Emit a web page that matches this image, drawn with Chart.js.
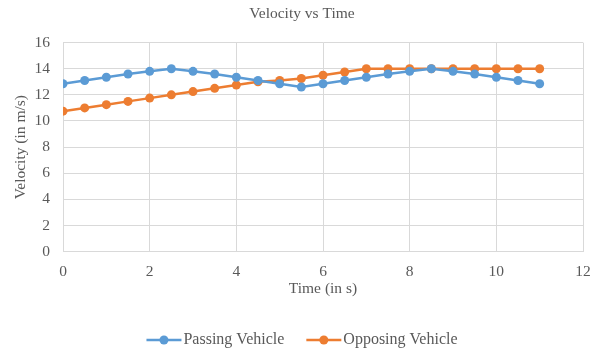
<!DOCTYPE html>
<html>
<head>
<meta charset="utf-8">
<script src="https://cdn.jsdelivr.net/npm/chart.js@4/dist/chart.umd.min.js"></script>
<style>
  html, body { margin: 0; padding: 0; background: #fff; }
  #wrap { width: 598px; height: 354px; }
</style>
</head>
<body>
<div id="wrap"><canvas id="velocity-chart"></canvas></div>
<script>
(function() {
    "use strict";

    const times = [0, 0.5, 1, 1.5, 2, 2.5, 3, 3.5, 4, 4.5, 5, 5.5, 6, 6.5, 7, 7.5, 8, 8.5, 9, 9.5, 10, 10.5, 11];
    const passing = [12.85, 13.1, 13.35, 13.6, 13.8, 14.0, 13.8, 13.6, 13.35, 13.1, 12.85, 12.6, 12.85, 13.1, 13.35, 13.6, 13.8, 14.0, 13.8, 13.6, 13.35, 13.1, 12.85];
    const opposing = [10.75, 11.0, 11.25, 11.5, 11.75, 12.0, 12.25, 12.5, 12.75, 13.0, 13.1, 13.25, 13.5, 13.75, 14.0, 14.0, 14.0, 14.0, 14.0, 14.0, 14.0, 14.0, 14.0];
    const seriesNames = ['Passing Vehicle', 'Opposing Vehicle'];

    const colors = { passing: '#5B9BD5', opposing: '#ED7D31', text: '#595959', grid: '#D9D9D9' };
    const serif = "'Liberation Serif', 'Times New Roman', serif";
    const legendLine = 35;

    function points(values) {
        return times.map((t, i) => ({ x: t, y: values[i] }));
    }

    // Excel style legend marker: line with a dot, sitting close to the text
    const legendMarkers = {
        id: 'legendMarkers',
        afterDraw(chart) {
            const legend = chart.legend;
            if (!legend || !legend.legendHitBoxes) return;
            const ctx = chart.ctx;
            legend.legendHitBoxes.forEach((box, i) => {
                const ds = chart.data.datasets[i];
                const y = box.top + box.height / 2;
                ctx.save();
                ctx.strokeStyle = ds.borderColor;
                ctx.fillStyle = ds.borderColor;
                ctx.lineWidth = 2.5;
                ctx.beginPath();
                ctx.moveTo(box.left, y);
                ctx.lineTo(box.left + legendLine, y);
                ctx.stroke();
                ctx.beginPath();
                ctx.arc(box.left + legendLine / 2, y, 4.5, 0, Math.PI * 2);
                ctx.fill();
                ctx.restore();
            });
        }
    };

    let velocityChart = document.getElementById('velocity-chart');
    if (velocityChart) {
        window.Chart && new Chart(velocityChart, {
            type: 'line',
            data: {
                datasets: [{
                    label: seriesNames[0],
                    data: points(passing),
                    borderColor: colors.passing,
                    backgroundColor: colors.passing,
                    pointBackgroundColor: colors.passing,
                    borderWidth: 2.5,
                    pointRadius: 4.5,
                    pointBorderWidth: 0,
                    lineTension: 0
                }, {
                    label: seriesNames[1],
                    data: points(opposing),
                    borderColor: colors.opposing,
                    backgroundColor: colors.opposing,
                    pointBackgroundColor: colors.opposing,
                    borderWidth: 2.5,
                    pointRadius: 4.5,
                    pointBorderWidth: 0,
                    lineTension: 0
                }]
            },
            options: {
                responsive: true,
                maintainAspectRatio: false,
                animation: false,
                layout: {
                    padding: { left: 6, right: 0, top: 0, bottom: -4 }
                },
                plugins: {
                    title: {
                        display: true,
                        text: 'Velocity vs Time',
                        color: colors.text,
                        font: { family: serif, size: 15.5, weight: 'normal' },
                        padding: { top: 5, bottom: 19 }
                    },
                    legend: {
                        position: 'bottom',
                        labels: {
                            color: colors.text,
                            font: { family: serif, size: 16 },
                            boxWidth: legendLine - 6,
                            boxHeight: 2,
                            padding: 22,
                            generateLabels(chart) {
                                return chart.data.datasets.map((ds, i) => ({
                                    text: ds.label,
                                    fillStyle: 'rgba(0,0,0,0)',
                                    strokeStyle: 'rgba(0,0,0,0)',
                                    lineWidth: 0,
                                    fontColor: colors.text,
                                    datasetIndex: i
                                }));
                            }
                        }
                    },
                    tooltip: { enabled: false }
                },
                scales: {
                    x: {
                        type: 'linear',
                        min: 0,
                        max: 12,
                        afterFit(scale) {
                            scale.height = 58.4;
                            scale.paddingLeft = 0;
                            scale.paddingRight = 15;
                        },
                        grid: { color: colors.grid, drawTicks: false },
                        border: { color: colors.grid },
                        ticks: {
                            stepSize: 2,
                            color: colors.text,
                            padding: 11,
                            font: { family: serif, size: 15.5 }
                        },
                        title: {
                            display: true,
                            text: 'Time (in s)',
                            color: colors.text,
                            font: { family: serif, size: 15.5 },
                            padding: { top: 0, bottom: 11.5 }
                        }
                    },
                    y: {
                        min: 0,
                        max: 16,
                        afterFit(scale) {
                            scale.width = 57;
                        },
                        grid: { color: colors.grid, drawTicks: false },
                        border: { color: colors.grid },
                        ticks: {
                            stepSize: 2,
                            color: colors.text,
                            padding: 13,
                            font: { family: serif, size: 15.5 }
                        },
                        title: {
                            display: true,
                            text: 'Velocity (in m/s)',
                            color: colors.text,
                            font: { family: serif, size: 15.5 },
                            padding: { top: 6, bottom: 3 }
                        }
                    }
                }
            },
            plugins: [legendMarkers]
        });
    }
})();
</script>
</body>
</html>
